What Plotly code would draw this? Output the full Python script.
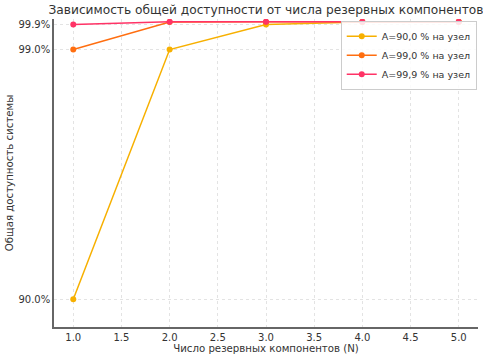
import plotly.graph_objects as go

N = [1, 2, 3, 4, 5]
avail_90 = [90.0, 99.0, 99.9, 99.99, 99.999]
avail_99 = [99.0, 99.99, 99.9999, 99.999999, 99.99999999]
avail_999 = [99.9, 99.9999, 99.9999999, 99.9999999999, 99.999999999999]
series_names = ["A=90,0 % на узел", "A=99,0 % на узел", "A=99,9 % на узел"]
colors = ["#f7b000", "#ff6e10", "#ff3366"]
ytick_vals = [90.0, 99.0, 99.9]
ytick_text = ["90.0%", "99.0%", "99.9%"]

FONT = "DejaVu Sans"
fig = go.Figure()
for ys, name, c in zip([avail_90, avail_99, avail_999], series_names, colors):
    fig.add_trace(go.Scatter(x=N, y=ys, mode="lines+markers", name=name,
                             line=dict(color=c, width=1.5),
                             marker=dict(color=c, size=6)))

W, H = 483, 356
ml, mr, mt, mb = 54, 5, 19, 29
fig.update_layout(
    width=W, height=H,
    margin=dict(l=ml, r=mr, t=mt, b=mb, autoexpand=False),
    plot_bgcolor="white", paper_bgcolor="white",
    font=dict(family=FONT, size=10, color="#333333"),
    title=dict(text="Зависимость общей доступности от числа резервных компонентов",
               x=(ml + (W - mr)) / 2 / W, xanchor="center",
               y=1 - 10 / H, yanchor="middle",
               font=dict(family=FONT, size=12.2, color="#333333")),
    xaxis=dict(range=[0.8, 5.2], tickvals=[1, 1.5, 2, 2.5, 3, 3.5, 4, 4.5, 5],
               ticktext=["1.0", "1.5", "2.0", "2.5", "3.0", "3.5", "4.0", "4.5", "5.0"],
               showgrid=True, gridcolor="#e3e3e3", griddash="dot", gridwidth=1,
               showline=True, linecolor="#666666", linewidth=1.5,
               ticks="", zeroline=False, automargin=False,
               title=dict(text="Число резервных компонентов (N)", standoff=3,
                          font=dict(family=FONT, size=10.2, color="#333333"))),
    yaxis=dict(range=[89.0, 100.1], tickvals=ytick_vals, ticktext=ytick_text,
               showgrid=True, gridcolor="#e3e3e3", griddash="dot", gridwidth=1,
               showline=True, linecolor="#666666", linewidth=1.5,
               ticks="", zeroline=False, automargin=False,
               title=dict(text="Общая доступность системы", standoff=3,
                          font=dict(family=FONT, size=10.2, color="#333333"))),
    legend=dict(x=0.997, y=0.994, xanchor="right", yanchor="top",
                bgcolor="rgba(255,255,255,0.85)", bordercolor="#cccccc", borderwidth=1,
                font=dict(family=FONT, size=9.5, color="#333333"),
                tracegroupgap=0, itemwidth=30),
    showlegend=True,
)
fig.write_html("out.html", config={"displayModeBar": False},
               post_script="document.body.style.margin='0';document.body.style.overflow='hidden';")
